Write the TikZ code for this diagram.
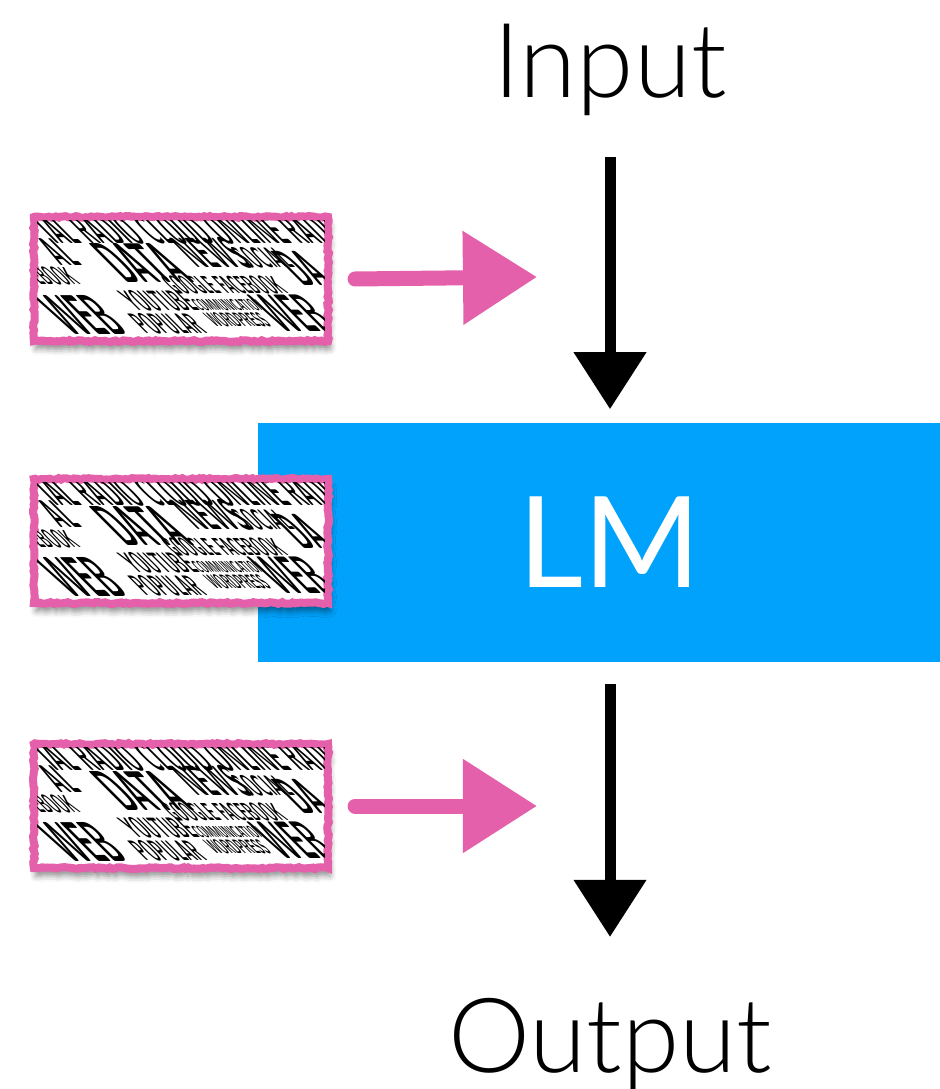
\documentclass[tikz,border=0pt]{standalone}
\usepackage{fontspec}
\setmainfont{Lato Light}
\newfontfamily\boxfont{Lato}
\usetikzlibrary{arrows.meta, shadows.blur, decorations.pathmorphing, positioning}

\definecolor{lmblue}{RGB}{0,162,252}
\definecolor{tilepink}{RGB}{229,96,170}

% one slanted word of the cloud: size, x, y in cm (from the tile's top left), text
\newcommand{\wc}[4]{%
  \begin{scope}[shift={(#2cm,#3cm)}, xslant=-1, xscale=.45]
    \node[word, font=\sffamily\bfseries\fontsize{#1}{#1}\selectfont] {#4};
  \end{scope}}

\newcommand{\wordcloud}{%
  \wc{11}{0.25}{-0.31}{IAL RADIO CLOUD ONLINE RADIO}
  \wc{11}{0.30}{-0.53}{AL}
  \wc{16}{0.95}{-0.70}{DATA}
  \wc{12}{1.66}{-0.55}{NEWS}
  \wc{8}{2.18}{-0.55}{SOCIAL}
  \wc{14}{2.72}{-0.73}{DA}
  \wc{7}{0.10}{-0.72}{EBOOK}
  \wc{7}{1.45}{-0.80}{GOOGLE FACEBOOK}
  \wc{16}{0.40}{-1.21}{WEB}
  \wc{8}{1.05}{-0.97}{YOUTUBE}
  \wc{4.5}{1.70}{-0.97}{COMMUNICATION}
  \wc{15}{2.52}{-1.18}{WEB}
  \wc{8}{1.15}{-1.20}{POPULAR}
  \wc{5.5}{1.85}{-1.13}{WORDPRESS}}

\tikzset{
  word/.style={inner sep=0pt, anchor=base west, transform shape, text=black},
  tile/.style={draw=tilepink, line width=0.08cm, fill=white, inner sep=0pt,
    minimum width=2.94cm, minimum height=1.24cm,
    decorate, decoration={random steps, segment length=0.8pt, amplitude=0.25pt},
    blur shadow={shadow xshift=0.02cm, shadow yshift=-0.08cm, shadow blur radius=0.06cm, shadow opacity=45}},
  feed/.style={tilepink, line width=0.15cm, line cap=round, -{Triangle[length=0.74cm, width=0.9cm]}},
  flow/.style={black, line width=0.11cm, -{Triangle[length=0.57cm, width=0.7cm]}},
  caption/.style={font=\fontsize{29.5}{30}\selectfont, inner sep=0pt, anchor=base}
}

\begin{document}
\begin{tikzpicture}[x=0.01cm, y=-0.01cm]
  \useasboundingbox (0,0) rectangle (939,1089);

  \node[caption] (in) at (610,98) {Input};
  \node[fill=lmblue, minimum width=7.04cm, minimum height=2.39cm, inner sep=0pt,
    text=white, font=\boxfont\fontsize{36}{36}\selectfont] (lm) at (610,542.5) {LM};
  \node[caption] (out) at (610,1072) {Output};

  \node[tile] (data1) at (181,279) {};
  \node[tile] (data2) at (181,541) {};
  \node[tile] (data3) at (181,806) {};

  \foreach \t in {data1,data2,data3} {
    \begin{scope}
      \clip ([shift={(0.08cm,-0.08cm)}]\t.north west) rectangle ([shift={(-0.08cm,0.08cm)}]\t.south east);
      \begin{scope}[shift={(\t.north west)}]
        \wordcloud
      \end{scope}
    \end{scope}
  }

  \coordinate (feed1) at (537,277);
  \coordinate (feed3) at (537,806);

  \draw[flow, shorten <=0.59cm, shorten >=0.13cm] (in.base) -- (in.base |- lm.north);
  \draw[flow, shorten <=0.21cm, shorten >=1.35cm] (out.base |- lm.south) -- (out.base);
  \draw[feed] ([xshift=0.23cm]data1.east) -- (feed1);
  \draw[feed] ([xshift=0.23cm]data3.east) -- (feed3);
\end{tikzpicture}
\end{document}
